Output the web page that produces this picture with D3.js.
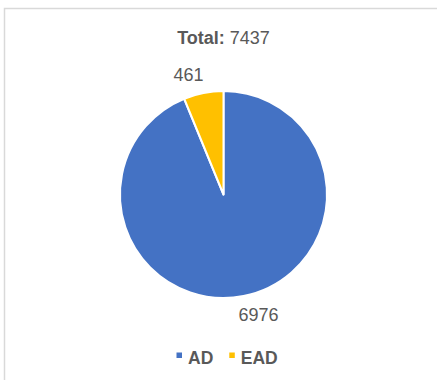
<!DOCTYPE html>
<html>
<head>
<meta charset="utf-8">
<script src="https://cdn.jsdelivr.net/npm/d3@7"></script>
<style>
  html, body { margin: 0; padding: 0; background: #ffffff; }
  svg { display: block; font-family: Arial, "Liberation Sans", sans-serif; }
</style>
</head>
<body>
<svg id="chart" width="437" height="380"></svg>
<script>
// Case counts per category
const categories = ["AD", "EAD"];
const values = [6976, 461];
const colors = ["#4472C4", "#FFC000"];
const titleLabel = "Total:";

const width = 437, height = 380;
const cx = 223.5, cy = 194.5, radius = 103.5;
const textColor = "#595959";

const svg = d3.select("#chart");

// Chart-area frame
svg.append("rect")
  .attr("x", 4.5).attr("y", 8.5)
  .attr("width", width + 10).attr("height", height + 10)
  .attr("fill", "none")
  .attr("stroke", "#d9d9d9")
  .attr("stroke-width", 1.5);

const total = d3.sum(values);
const data = categories.map((c, i) => ({ category: c, value: values[i], color: colors[i] }));

// Title
const title = svg.append("text")
  .attr("x", cx).attr("y", 44)
  .attr("text-anchor", "middle")
  .attr("font-size", 18)
  .attr("fill", textColor);
title.append("tspan").attr("font-weight", "bold").text(titleLabel + " ");
title.append("tspan").text(total);

// Slices, clockwise from 12 o'clock
const pie = d3.pie().sort(null).value(d => d.value);
const arcs = pie(data);
const arc = d3.arc().innerRadius(0).outerRadius(radius);
const labelArc = d3.arc().innerRadius(122).outerRadius(122);

const g = svg.append("g").attr("transform", `translate(${cx},${cy})`);

g.selectAll("path.slice")
  .data(arcs)
  .join("path")
  .attr("class", "slice")
  .attr("d", arc)
  .attr("fill", d => d.data.color)
  .attr("stroke", "#ffffff")
  .attr("stroke-width", 2)
  .attr("stroke-linejoin", "round");

// Value labels outside the slices
g.selectAll("text.value")
  .data(arcs)
  .join("text")
  .attr("class", "value")
  .attr("transform", d => {
    const [x, y] = labelArc.centroid(d);
    const shift = x < 0 ? -11.5 : 11.5;
    return `translate(${x + shift},${y})`;
  })
  .attr("text-anchor", "middle")
  .attr("dy", "0.36em")
  .attr("font-size", 18)
  .attr("fill", textColor)
  .text(d => d.data.value);

// Legend
const legend = svg.append("g");
const legendY = 364;
let lx = 176.5;
data.forEach(d => {
  legend.append("rect")
    .attr("x", lx).attr("y", legendY - 11.5)
    .attr("width", 5.5).attr("height", 5.5)
    .attr("fill", d.color);
  const t = legend.append("text")
    .attr("x", lx + 11.5).attr("y", legendY)
    .attr("font-size", 17.5)
    .attr("font-weight", "bold")
    .attr("fill", textColor)
    .text(d.category);
  lx += 11.5 + t.node().getComputedTextLength() + 16;
});
</script>
</body>
</html>
